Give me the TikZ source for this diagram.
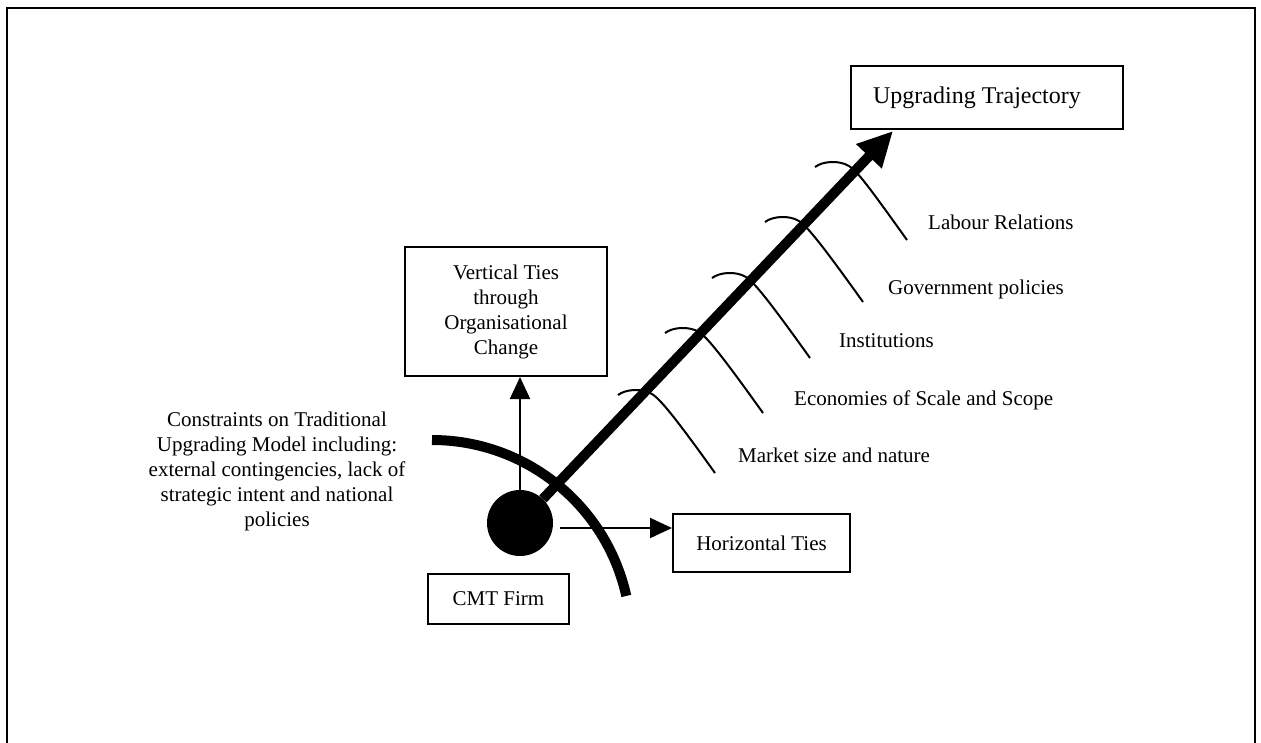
\documentclass[tikz,border=0pt]{standalone}
\usepackage{fontspec}
\setmainfont{Liberation Serif}
\usetikzlibrary{arrows.meta,calc}
\begin{document}
\begin{tikzpicture}[x=1pt,y=-1pt,
  every node/.style={font=\fontsize{21}{25}\selectfont},
  box/.style={draw, line width=2pt, inner sep=0pt, align=center},
  lbl/.style={anchor=base west, inner sep=0pt},
  thin arrow/.style={line width=2pt, -{Triangle[width=20pt,length=22pt]}},
  trajectory/.style={line width=10pt, -{Triangle[width=33pt,length=35pt]}},
  bone/.style={line width=2pt},
  barrier/.style={line width=10pt}]
\useasboundingbox (0,0) rectangle (1261,743);
% outer frame (open at the foot of the page)
\draw[line width=2pt] (7,8) rectangle (1255,760);

% the constraint boundary
\draw[barrier] (432,440) arc[start angle=-90, end angle=-12.5, radius=199];

% factor bones along the trajectory
\foreach \sx/\sy/\ex/\ey in {618/395/715/473, 665/333/763/413, 712/278/810/358, 765/222/863/302, 815/167/907/240}
  \draw[bone] (\sx,\sy) .. controls +(8,-6) and +(-10,-6) .. ++(34,-1)
              .. controls +(8,5) and +(-40,-56) .. (\ex,\ey);

% boxes
\node[box, minimum width=272pt, minimum height=63pt, font=\fontsize{24}{28}\selectfont] (up) at (987,97.5)
  {\raisebox{2pt}{Upgrading Trajectory}\hspace*{20pt}};
\node[box, minimum width=202pt, minimum height=129pt] (vt) at (506,311.5)
  {Vertical Ties\\through\\Organisational\\Change};
\node[box, minimum width=177pt, minimum height=58pt] (ht) at (761.5,543) {Horizontal Ties};
\node[box, minimum width=141pt, minimum height=50pt] (cmt) at (498.5,599) {CMT Firm};

% the firm
\node[circle, fill, inner sep=0pt, minimum size=66pt] (firm) at (520,523) {};

% trajectory arrow
\coordinate (tip) at (893,131);
\draw[trajectory] (firm) -- (tip);

% ties
\draw[thin arrow] (firm.north) -- (firm.north |- vt.south);
\coordinate (hstart) at (560,528);
\draw[thin arrow] (hstart) -- (hstart -| ht.west);

% constraints text
\node[align=center] (cons) at (277,471)
  {Constraints on Traditional\\Upgrading Model including:\\external contingencies, lack of\\strategic intent and national\\policies};

% factor labels
\node[lbl] (labour) at (928,230) {Labour Relations};
\node[lbl] (gov) at (888,295) {Government policies};
\node[lbl] (inst) at (839,347) {Institutions};
\node[lbl] (econ) at (794,405) {Economies of Scale and Scope};
\node[lbl] (market) at (738,462) {Market size and nature};
\end{tikzpicture}
\end{document}
